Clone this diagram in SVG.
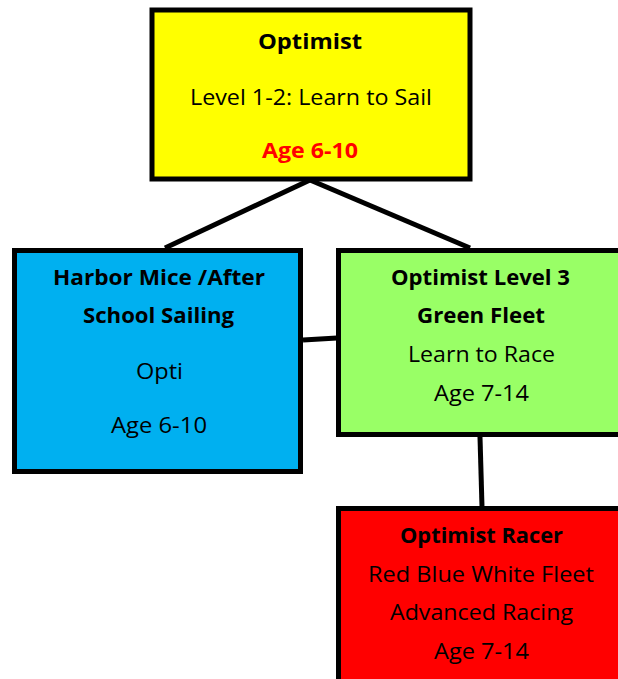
<svg xmlns="http://www.w3.org/2000/svg" width="618" height="679" viewBox="0 0 618 679">
<style>
.box{stroke:#000;stroke-width:5}
.t{font-family:"Open Sans","Liberation Sans",sans-serif;font-size:22px;fill:#000;text-anchor:middle}
.b{font-weight:bold}
.conn line{stroke:#000;stroke-width:5}
</style>
<rect width="618" height="679" fill="#fff"/>
<g class="conn">
<line x1="310" y1="180" x2="165" y2="248"/>
<line x1="310" y1="180" x2="470" y2="248"/>
<line x1="303" y1="340" x2="337" y2="338"/>
<line x1="480" y1="437" x2="482" y2="507"/>
</g>
<g id="optimist">
<rect class="box" x="152" y="10" width="318" height="169" fill="#ffff00"/>
<text class="t b" x="310" y="49" textLength="104" lengthAdjust="spacingAndGlyphs">Optimist</text>
<text class="t" x="311" y="105" textLength="242" lengthAdjust="spacingAndGlyphs">Level 1-2: Learn to Sail</text>
<text class="t b" x="310" y="158" style="fill:#ff0000" textLength="96" lengthAdjust="spacingAndGlyphs">Age 6-10</text>
</g>
<g id="harbor">
<rect class="box" x="14.5" y="250.5" width="286" height="221" fill="#00b0f0"/>
<text class="t b" x="159" y="285" textLength="212" lengthAdjust="spacingAndGlyphs">Harbor Mice /After</text>
<text class="t b" x="158.5" y="323" textLength="151" lengthAdjust="spacingAndGlyphs">School Sailing</text>
<text class="t" x="159.5" y="379" textLength="47" lengthAdjust="spacingAndGlyphs">Opti</text>
<text class="t" x="159" y="433" textLength="96" lengthAdjust="spacingAndGlyphs">Age 6-10</text>
</g>
<g id="green">
<rect class="box" x="338.5" y="250.5" width="285" height="184" fill="#99ff66"/>
<text class="t b" x="480.5" y="285" textLength="179" lengthAdjust="spacingAndGlyphs">Optimist Level 3</text>
<text class="t b" x="481" y="323" textLength="128" lengthAdjust="spacingAndGlyphs">Green Fleet</text>
<text class="t" x="481.5" y="362" textLength="147" lengthAdjust="spacingAndGlyphs">Learn to Race</text>
<text class="t" x="481.5" y="401" textLength="95" lengthAdjust="spacingAndGlyphs">Age 7-14</text>
</g>
<g id="racer">
<rect class="box" x="338.5" y="508.5" width="285" height="180" fill="#ff0000"/>
<text class="t b" x="481.5" y="543" textLength="163" lengthAdjust="spacingAndGlyphs">Optimist Racer</text>
<text class="t" x="481" y="582" textLength="226" lengthAdjust="spacingAndGlyphs">Red Blue White Fleet</text>
<text class="t" x="481.5" y="620" textLength="183" lengthAdjust="spacingAndGlyphs">Advanced Racing</text>
<text class="t" x="481.5" y="659" textLength="95" lengthAdjust="spacingAndGlyphs">Age 7-14</text>
</g>
</svg>
